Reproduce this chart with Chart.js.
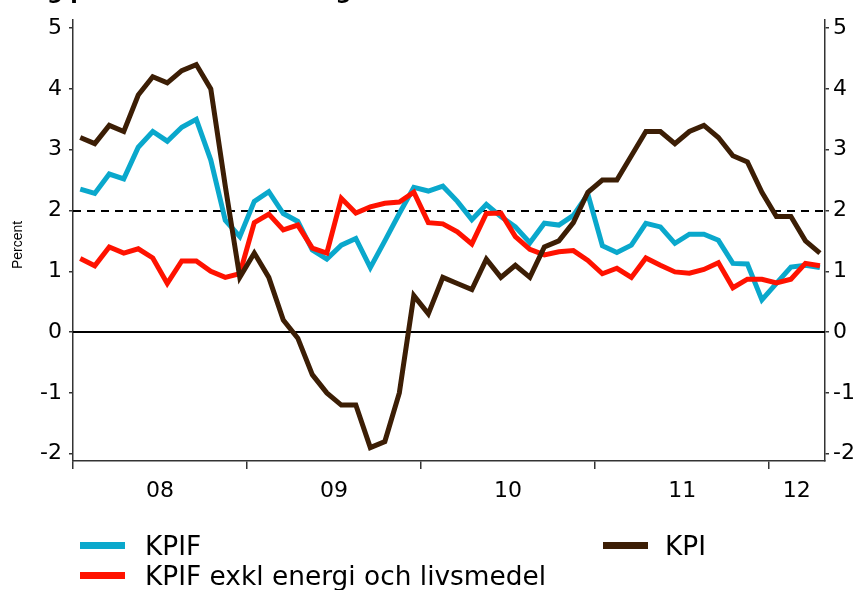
<!DOCTYPE html>
<html>
<head>
<meta charset="utf-8">
<script src="https://cdn.jsdelivr.net/npm/chart.js@4.4.1/dist/chart.umd.min.js"></script>
<style>
  body { margin: 0; background: #fff; }
  #wrap { position: relative; width: 864px; height: 590px; overflow: hidden; }
  .sw { position: absolute; width: 45px; height: 7px; }
  .lt { position: absolute; font-family: "DejaVu Sans", sans-serif; font-size: 26.4px; line-height: 30px; color: #000; white-space: nowrap; }
</style>
</head>
<body>
<div id="wrap">
  <canvas id="grafico" width="864" height="590"></canvas>
  <div class="sw" style="left:80px;top:542px;background:#0aa8cc"></div>
  <div class="lt" style="left:145px;top:531px">KPIF</div>
  <div class="sw" style="left:80px;top:572px;background:#ff1200"></div>
  <div class="lt" style="left:145px;top:561px">KPIF exkl energi och livsmedel</div>
  <div class="sw" style="left:603px;top:542px;background:#3c1e05"></div>
  <div class="lt" style="left:665px;top:531px">KPI</div>
</div>
<script>
/* DADOS (jan 2008 - apr 2012, mensal) */
const meses = [
  "2008-01","2008-02","2008-03","2008-04","2008-05","2008-06","2008-07","2008-08","2008-09","2008-10","2008-11","2008-12",
  "2009-01","2009-02","2009-03","2009-04","2009-05","2009-06","2009-07","2009-08","2009-09","2009-10","2009-11","2009-12",
  "2010-01","2010-02","2010-03","2010-04","2010-05","2010-06","2010-07","2010-08","2010-09","2010-10","2010-11","2010-12",
  "2011-01","2011-02","2011-03","2011-04","2011-05","2011-06","2011-07","2011-08","2011-09","2011-10","2011-11","2011-12",
  "2012-01","2012-02","2012-03","2012-04"
];

const kpif = [
  2.35, 2.28, 2.60, 2.52, 3.04, 3.30, 3.14, 3.37, 3.50, 2.83, 1.84, 1.57,
  2.15, 2.31, 1.95, 1.82, 1.35, 1.20, 1.43, 1.54, 1.06, 1.50, 1.95, 2.38,
  2.32, 2.40, 2.15, 1.85, 2.10, 1.90, 1.73, 1.47, 1.79, 1.76, 1.92, 2.27,
  1.42, 1.31, 1.43, 1.79, 1.73, 1.46, 1.61, 1.61, 1.51, 1.13, 1.12, 0.53,
  0.80, 1.07, 1.10, 1.06
];

const kpifExkl = [
  1.21, 1.09, 1.40, 1.30, 1.37, 1.22, 0.80, 1.17, 1.17, 1.00, 0.90, 0.96,
  1.80, 1.94, 1.68, 1.76, 1.38, 1.30, 2.20, 1.96, 2.06, 2.12, 2.14, 2.30,
  1.80, 1.78, 1.65, 1.45, 1.95, 1.96, 1.57, 1.36, 1.27, 1.32, 1.34, 1.18,
  0.96, 1.05, 0.90, 1.22, 1.10, 0.99, 0.97, 1.03, 1.14, 0.73, 0.87, 0.87,
  0.81, 0.87, 1.13, 1.09
];

const kpi = [
  3.2, 3.1, 3.4, 3.3, 3.9, 4.2, 4.1, 4.3, 4.4, 4.0, 2.4, 0.9,
  1.3, 0.9, 0.2, -0.1, -0.7, -1.0, -1.2, -1.2, -1.9, -1.8, -1.0, 0.6,
  0.3, 0.9, 0.8, 0.7, 1.2, 0.9, 1.1, 0.9, 1.4, 1.5, 1.8, 2.3,
  2.5, 2.5, 2.9, 3.3, 3.3, 3.1, 3.3, 3.4, 3.2, 2.9, 2.8, 2.3,
  1.9, 1.9, 1.5, 1.3
];

const anos = ["08", "09", "10", "11", "12"];
const anoCentro = [5.5, 17.5, 29.5, 41.5, 49.4];
const anoLimite = [-0.5, 11.5, 23.5, 35.5, 47.5];
const yTicks = [-2, -1, 0, 1, 2, 3, 4, 5];
const meta = 2;

const fonte = { family: "DejaVu Sans", size: 22 };
const eixoCor = "#333";

function pontos(serie) {
  return serie.map((v, i) => ({ x: i, y: v }));
}

/* LINHAS EXTRAS + TEXTOS */
const extras = {
  id: "extras",
  beforeDatasetsDraw(chart) {
    const { ctx, chartArea: a, scales } = chart;
    const y = scales.y;
    ctx.save();
    ctx.strokeStyle = "#000";
    ctx.lineWidth = 2;
    const y0 = Math.round(y.getPixelForValue(0));
    ctx.beginPath(); ctx.moveTo(a.left, y0); ctx.lineTo(a.right, y0); ctx.stroke();
    ctx.setLineDash([8, 6]);
    const y2 = Math.round(y.getPixelForValue(meta));
    ctx.beginPath(); ctx.moveTo(a.left, y2); ctx.lineTo(a.right, y2); ctx.stroke();
    ctx.restore();
  },
  afterDraw(chart) {
    const ctx = chart.ctx;
    ctx.save();
    ctx.fillStyle = "#000";
    ctx.font = "bold 22px 'DejaVu Sans'";
    ctx.textBaseline = "alphabetic";
    ctx.fillText("Årlig procentuell förändring", 4, -1);
    ctx.font = "14px 'Liberation Sans'";
    ctx.translate(18, 245);
    ctx.rotate(-Math.PI / 2);
    ctx.textAlign = "center";
    ctx.textBaseline = "middle";
    ctx.fillText("Percent", 0, 0);
    ctx.restore();
  }
};

function eixoY(pos, largura, pad) {
  return {
    position: pos,
    min: -2.12,
    max: 5.13,
    afterBuildTicks: s => { s.ticks = yTicks.map(v => ({ value: v })); },
    afterFit: s => { s.width = largura; },
    ticks: { font: fonte, color: "#000", padding: pad, callback: v => String(v) },
    grid: { drawOnChartArea: false, drawTicks: true, tickLength: 4, tickColor: eixoCor, lineWidth: 1.5 },
    border: { color: eixoCor, width: 1.5 }
  };
}

new Chart(document.getElementById("grafico"), {
  type: "line",
  data: {
    labels: meses,
    datasets: [
      { label: "KPIF", data: pontos(kpif), borderColor: "#0aa8cc", order: 3 },
      { label: "KPIF exkl energi och livsmedel", data: pontos(kpifExkl), borderColor: "#ff1200", order: 2 },
      { label: "KPI", data: pontos(kpi), borderColor: "#3c1e05", order: 1 }
    ]
  },
  options: {
    responsive: false,
    animation: false,
    layout: { padding: { top: 20, bottom: 79, left: 0, right: 0 } },
    elements: {
      point: { radius: 0 },
      line: { borderWidth: 5, tension: 0, fill: false, borderJoinStyle: "miter" }
    },
    plugins: { legend: { display: false }, tooltip: { enabled: false } },
    scales: {
      x: {
        type: "linear",
        min: -0.5,
        max: 51.35,
        afterBuildTicks: s => {
          s.ticks = anoLimite.concat(anoCentro).sort((a, b) => a - b).map(v => ({ value: v }));
        },
        afterFit: s => { s.height = 50; },
        ticks: {
          font: fonte, color: "#000", padding: 9, maxRotation: 0, autoSkip: false,
          callback: v => { const k = anoCentro.indexOf(v); return k >= 0 ? anos[k] : ""; }
        },
        grid: {
          drawOnChartArea: false, drawTicks: true, tickLength: 8, lineWidth: 1.5,
          tickColor: c => anoLimite.includes(c.tick.value) ? eixoCor : "rgba(0,0,0,0)"
        },
        border: { color: eixoCor, width: 1.5 }
      },
      y: eixoY("left", 73, 7),
      y2: eixoY("right", 39, 4)
    }
  },
  plugins: [extras]
});
</script>
</body>
</html>
